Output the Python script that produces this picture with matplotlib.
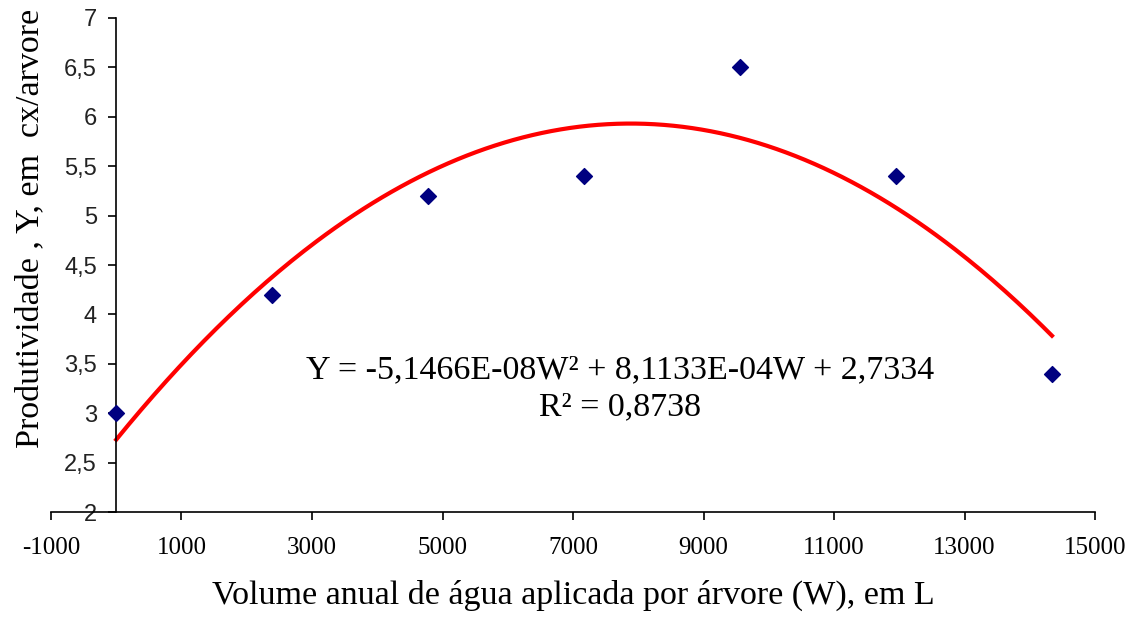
import numpy as np
import matplotlib.pyplot as plt
from matplotlib.ticker import FuncFormatter

# water volume per tree (L) and yield (boxes/tree)
volume = [0, 2390, 4780, 7170, 9560, 11950, 14340]
yield_boxes = [3.0, 4.2, 5.2, 5.4, 6.5, 5.4, 3.4]

# quadratic trendline coefficients shown on the chart (a*W^2 + b*W + c)
coef = [-5.1466e-08, 8.1133e-04, 2.7334]
r2 = 0.8738

x_ticks = [-1000, 1000, 3000, 5000, 7000, 9000, 11000, 13000, 15000]
y_ticks = [2, 2.5, 3, 3.5, 4, 4.5, 5, 5.5, 6, 6.5, 7]

serif = "Liberation Serif"
sans = "Liberation Sans"
plt.rcParams["axes.unicode_minus"] = False

fig = plt.figure(figsize=(11.33, 6.17), dpi=100)
ax = fig.add_axes([0.045, 0.170, 0.9215, 0.801])

w = np.linspace(volume[0], volume[-1], 300)
ax.plot(w, np.polyval(coef, w), color="#ff0000", lw=3, zorder=2)
ax.scatter(volume, yield_boxes, marker="D", s=65, color="#000080", zorder=3, clip_on=False)

ax.set_xlim(-1000, 15000)
ax.set_ylim(2, 7)
ax.set_xticks(x_ticks)
ax.set_yticks(y_ticks)
ax.yaxis.set_major_formatter(FuncFormatter(lambda v, p: f"{v:g}".replace(".", ",")))

ax.spines["top"].set_visible(False)
ax.spines["right"].set_visible(False)
ax.spines["left"].set_position(("data", 0))
for s in ("left", "bottom"):
    ax.spines[s].set_linewidth(1.2)

ax.tick_params(axis="x", direction="out", length=6, width=1.2, pad=12)
ax.tick_params(axis="y", direction="out", length=6, width=1.2, pad=8)
for lab in ax.get_xticklabels():
    lab.set_fontfamily(serif)
    lab.set_fontsize(18)
for lab in ax.get_yticklabels():
    lab.set_fontfamily(sans)
    lab.set_fontsize(17)
    lab.set_color("#222222")

ax.set_xlabel("Volume anual de água aplicada por árvore (W), em L",
              fontfamily=serif, fontsize=24.5, labelpad=15)
ax.set_ylabel("Produtividade , Y, em  cx/arvore", fontfamily=serif, fontsize=24.5)
ax.yaxis.set_label_coords(-0.005, 0.573)

eq = "Y = -5,1466E-08W² + 8,1133E-04W + 2,7334\nR² = 0,8738"
ax.text(7720, 3.25, eq, fontfamily=serif, fontsize=24.5, ha="center", va="center",
        linespacing=1.3)

fig.savefig("out.png", dpi=100)
